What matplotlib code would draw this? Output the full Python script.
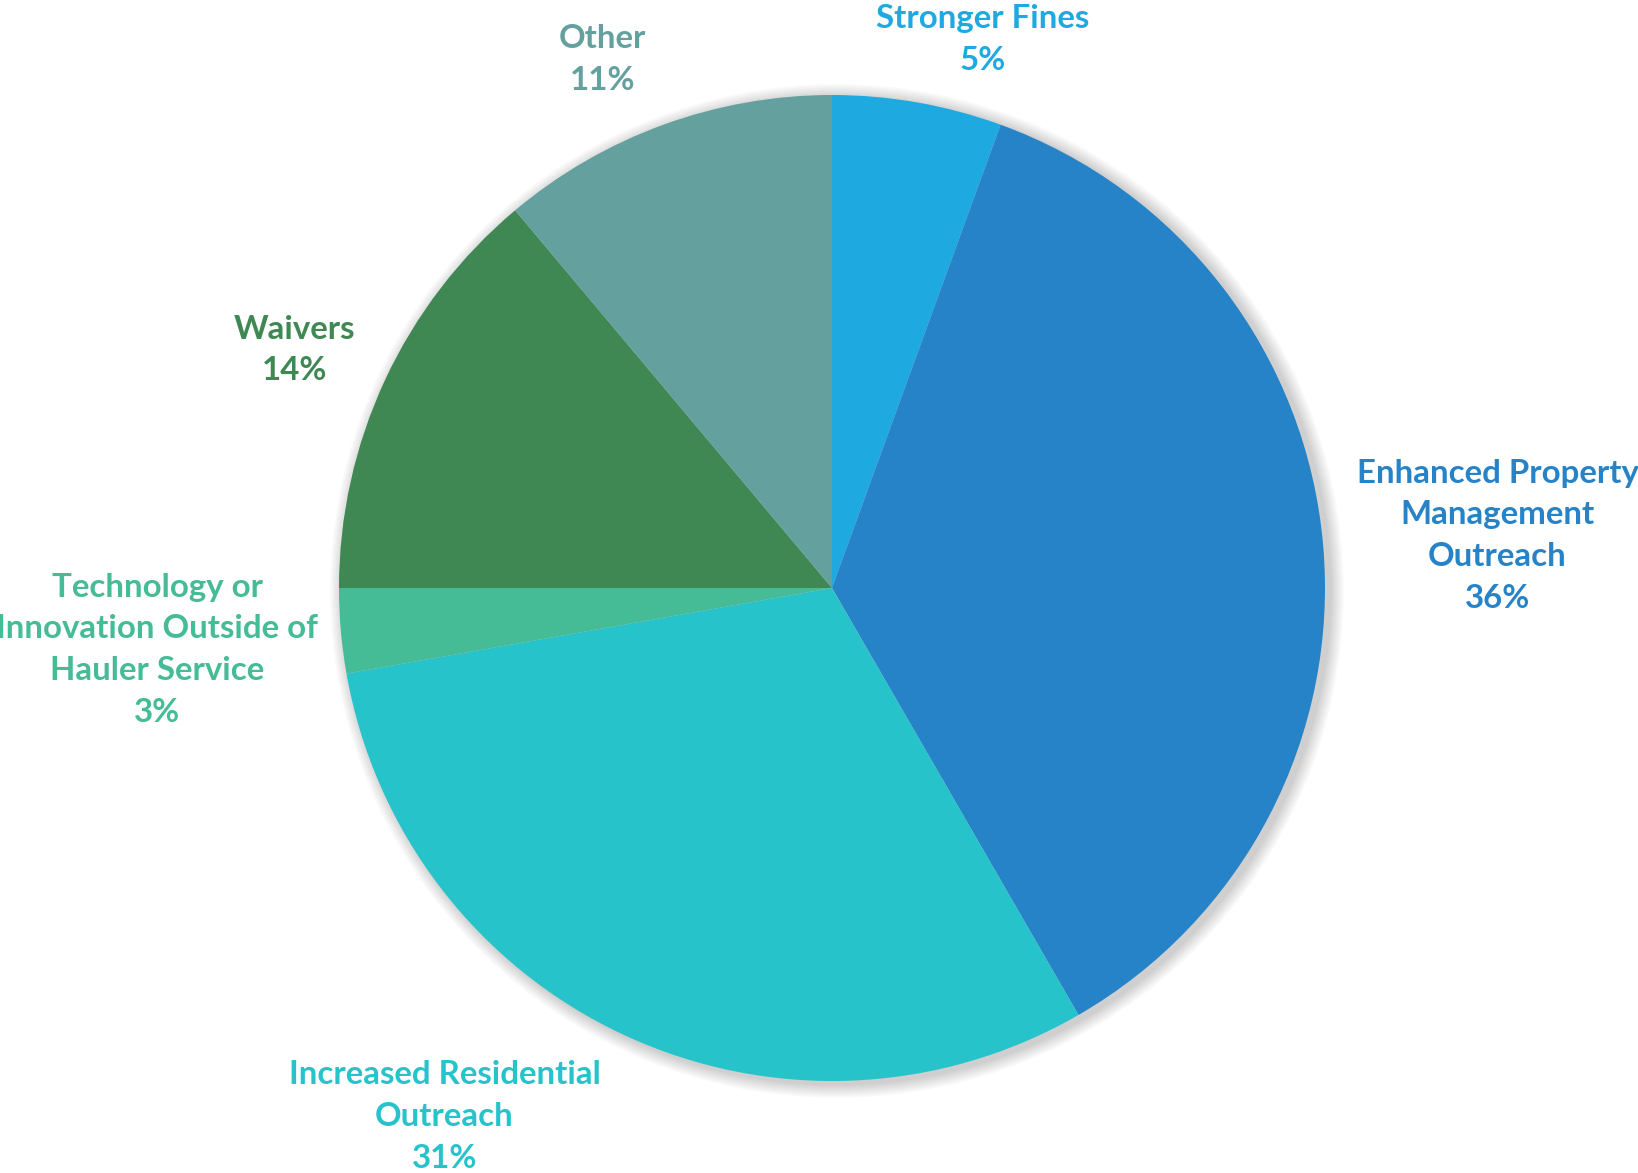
import matplotlib.pyplot as plt
from matplotlib.patches import Circle

# response counts (36 total), clockwise from 12 o'clock
categories = ["Stronger Fines", "Enhanced Property\nManagement\nOutreach",
              "Increased Residential\nOutreach",
              "Technology or\nInnovation Outside of\nHauler Service",
              "Waivers", "Other"]
counts = [2, 13, 11, 1, 5, 4]
pct_labels = ["5%", "36%", "31%", "3%", "14%", "11%"]
colors = ["#1FA9E1", "#2783C7", "#27C3CB", "#45BB96", "#3F8853", "#64A19E"]

# label centres in pie-radius units (Excel "best fit" placement)
label_pos = [(0.305, 1.112), (1.350, 0.106), (-0.786, -1.072),
             (-1.369, -0.125), (-1.091, 0.483), (-0.466, 1.072)]

W, H = 1638, 1173
cx, cy, R = 832, 588, 493

fig = plt.figure(figsize=(W / 100, H / 100), dpi=100)
ax = fig.add_axes([0, 0, 1, 1])

# soft shadow behind the pie
for i in range(8):
    ax.add_patch(Circle((0.010, -0.006), 1.0 + 0.0035 * (8 - i),
                        color="black", alpha=0.022, lw=0, zorder=0))

wedges, _ = ax.pie(counts, colors=colors, startangle=90, counterclock=False,
                   radius=1.0, wedgeprops=dict(linewidth=0))
for w in wedges:
    w.set_zorder(2)

for (x, y), name, pct, col in zip(label_pos, categories, pct_labels, colors):
    ax.text(x, y, name + "\n" + pct, ha="center", va="center",
            color=col, fontsize=23.8, fontweight="bold", family="Lato",
            linespacing=1.53, zorder=3)

ax.set_xlim(-cx / R, (W - cx) / R)
ax.set_ylim(-(H - cy) / R, cy / R)
ax.set_aspect("auto")
ax.axis("off")

fig.savefig("out.png", dpi=100, facecolor="white")
